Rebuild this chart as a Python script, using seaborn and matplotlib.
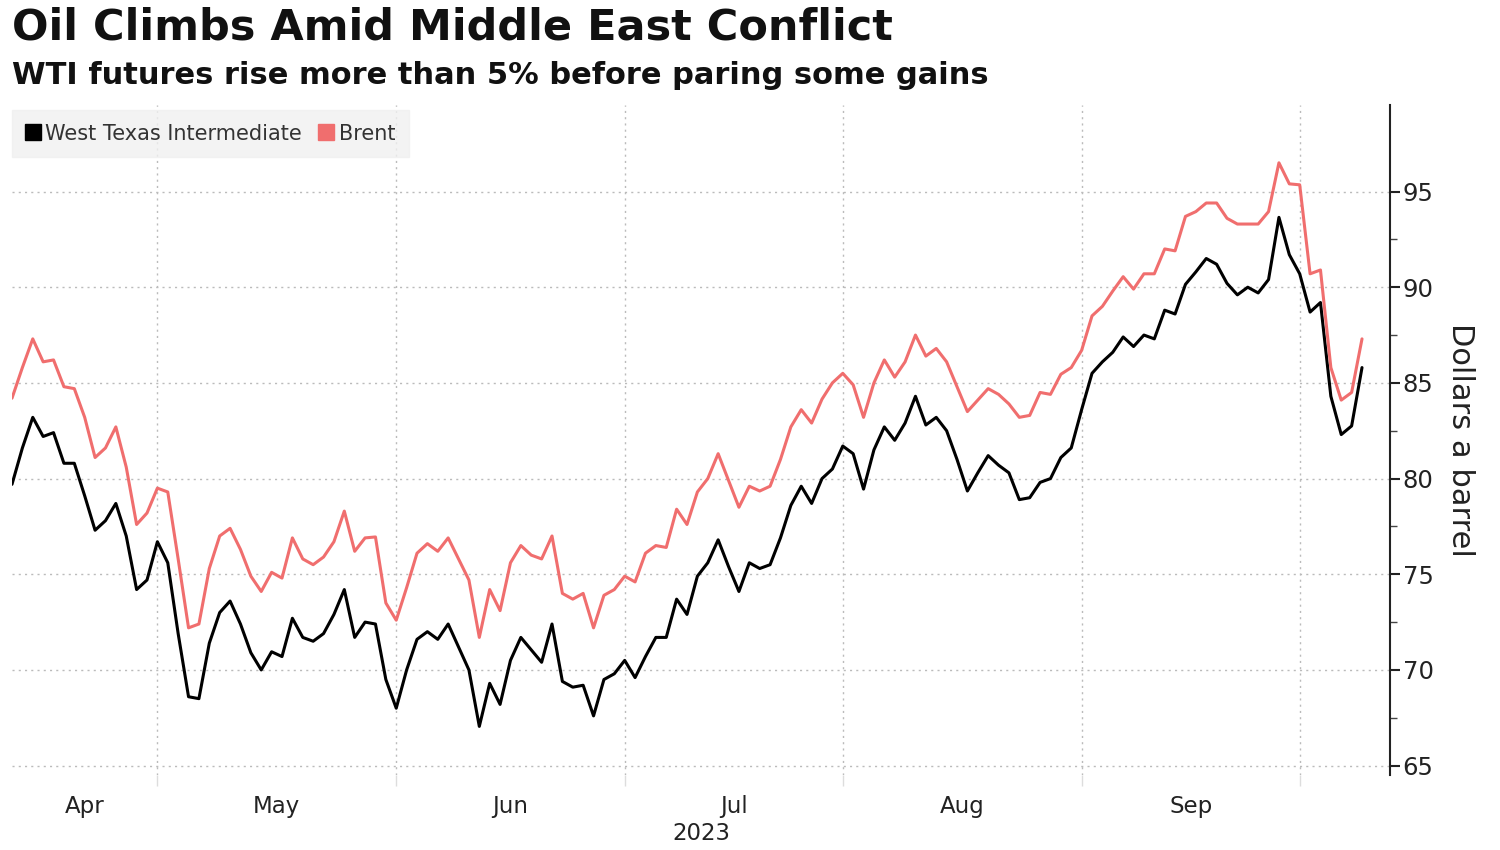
import pandas as pd
import seaborn as sns
import matplotlib.pyplot as plt
from matplotlib.lines import Line2D

# Data: one value per weekday, 2023-04-10 .. 2023-10-09

start_date = "2023-04-10"
end_date = "2023-10-09"

wti = [
    79.7, 81.6, 83.2, 82.2, 82.4, 80.8, 80.8, 79.1, 77.3, 77.8, 78.7, 77.0, 74.2, 74.7, 76.7,
    75.6, 71.9, 68.6, 68.5, 71.4, 73.0, 73.6, 72.4,
    70.9, 70.0, 70.95, 70.7, 72.7, 71.7, 71.5, 71.9, 72.9, 74.2, 71.7, 72.5, 72.4, 69.5,
    68.0, 70.0, 71.6, 72.0, 71.6, 72.4, 71.2, 70.0,
    67.05, 69.3, 68.2, 70.5, 71.7, 71.05, 70.4, 72.4, 69.4, 69.1, 69.2, 67.6, 69.5, 69.8,
    70.5, 69.6, 70.7, 71.7, 71.7, 73.7, 72.9, 74.9,
    75.6, 76.8, 75.4, 74.1, 75.6, 75.3, 75.5, 76.9, 78.6, 79.6, 78.7, 80.0, 80.5, 81.7,
    81.3, 79.45, 81.5, 82.7, 82.0, 82.9, 84.3, 82.8,
    83.2, 82.5, 81.0, 79.35, 80.3, 81.2, 80.7, 80.3, 78.9, 79.0, 79.8, 80.0, 81.1, 81.6,
    83.6, 85.5, 86.1, 86.6, 87.4, 86.9, 87.5, 87.3,
    88.8, 88.6, 90.15, 90.8, 91.5, 91.2, 90.2, 89.6, 90.0, 89.7, 90.4, 93.65, 91.7, 90.7,
    88.7, 89.2, 84.3, 82.3, 82.75, 85.8,
]

brent = [
    84.2, 85.8, 87.3, 86.1, 86.2, 84.8, 84.7, 83.2, 81.1, 81.6, 82.7, 80.6, 77.6, 78.2, 79.5,
    79.3, 75.8, 72.2, 72.4, 75.3, 77.0, 77.4, 76.3,
    74.9, 74.1, 75.1, 74.8, 76.9, 75.8, 75.5, 75.9, 76.7, 78.3, 76.2, 76.9, 76.95, 73.5,
    72.6, 74.3, 76.1, 76.6, 76.2, 76.9, 75.8, 74.7,
    71.7, 74.2, 73.1, 75.6, 76.5, 76.0, 75.8, 77.0, 74.0, 73.7, 74.0, 72.2, 73.9, 74.2,
    74.9, 74.6, 76.1, 76.5, 76.4, 78.4, 77.6, 79.3,
    80.0, 81.3, 79.9, 78.5, 79.6, 79.35, 79.6, 81.0, 82.7, 83.6, 82.9, 84.15, 85.0, 85.5,
    84.9, 83.2, 85.0, 86.2, 85.3, 86.1, 87.5, 86.4,
    86.8, 86.1, 84.8, 83.5, 84.1, 84.7, 84.4, 83.9, 83.2, 83.3, 84.5, 84.4, 85.45, 85.8,
    86.7, 88.5, 89.0, 89.8, 90.55, 89.9, 90.7, 90.7,
    92.0, 91.9, 93.7, 93.95, 94.4, 94.4, 93.6, 93.3, 93.3, 93.3, 93.95, 96.5, 95.4, 95.35,
    90.7, 90.9, 85.8, 84.1, 84.5, 87.3,
]

series_names = ["West Texas Intermediate", "Brent"]
series_colors = ["#000000", "#f06e6e"]
month_labels = ["Apr", "May", "Jun", "Jul", "Aug", "Sep"]
year_label = "2023"
y_ticks = [65, 70, 75, 80, 85, 90, 95]

# Build the long table (x = weekday position, like the original's trading-day axis)
dates = pd.bdate_range(start_date, end_date)
df = pd.DataFrame({"date": dates, "idx": range(len(dates)),
                   series_names[0]: wti, series_names[1]: brent})
long_df = df.melt(id_vars=["date", "idx"], var_name="series", value_name="price")

# Month boundaries: gridline at the last weekday of each month
periods = df["date"].dt.to_period("M")
first_idx = df.groupby(periods)["idx"].min()
grid_pos = [i - 1 for i in first_idx.values[1:]]

x_max = 132.7
bounds = [0] + grid_pos
label_pos = [(bounds[i] + bounds[i + 1]) / 2 for i in range(len(month_labels))]

sns.set_theme(style="white")
plt.rcParams["font.family"] = ["DejaVu Sans"]

fig = plt.figure(figsize=(15, 8.5), dpi=100)
ax = fig.add_axes([0.008, 0.088, 0.9187, 0.788])

sns.lineplot(data=long_df, x="idx", y="price", hue="series",
             palette=dict(zip(series_names, series_colors)),
             linewidth=2.2, legend=False, ax=ax)

ax.set_xlim(0, x_max)
ax.set_ylim(64.5, 99.5)

# y axis on the right
ax.yaxis.tick_right()
ax.yaxis.set_label_position("right")
ax.set_yticks(y_ticks)
ax.set_yticks([v + 2.5 for v in y_ticks[:-1]], minor=True)
ax.tick_params(axis="y", which="major", length=7, width=1.5, color="#222222",
               labelsize=17.5, labelcolor="#222222", pad=2, right=True)
ax.tick_params(axis="y", which="minor", length=5, width=1, color="#444444", right=True)
ax.set_ylabel("Dollars a barrel", rotation=-90, fontsize=22, color="#222222", labelpad=30)

# x axis: month labels between gridlines
ax.set_xticks(label_pos, month_labels)
ax.set_xticks(grid_pos, minor=True)
ax.tick_params(axis="x", which="major", length=0, labelsize=16.5, labelcolor="#222222", pad=14)
ax.tick_params(axis="x", which="minor", length=8, width=1, color="#dddddd", bottom=True)
ax.set_xlabel("")
ax.text(0.5, -0.07, year_label, transform=ax.transAxes, ha="center", va="top",
        fontsize=16.5, color="#222222")

ax.grid(axis="y", which="major", linestyle=(0, (1.5, 3)), color="#bbbbbb", linewidth=1)
ax.grid(axis="x", which="minor", linestyle=(0, (1.5, 3)), color="#bbbbbb", linewidth=1)

for side in ["left", "top", "bottom"]:
    ax.spines[side].set_visible(False)
ax.spines["right"].set_color("#222222")
ax.spines["right"].set_linewidth(1.5)

handles = [Line2D([0], [0], marker="s", color="none", markerfacecolor=c,
                  markeredgecolor=c, markersize=11) for c in series_colors]
leg = ax.legend(handles, series_names, loc="upper left", bbox_to_anchor=(0, 0.993),
                ncol=2, frameon=True, fontsize=15, handlelength=0.7, handletextpad=0.25,
                columnspacing=0.8, borderaxespad=0, borderpad=0.65, fancybox=False)
leg.get_frame().set_facecolor("#f0f0f0")
leg.get_frame().set_edgecolor("#f0f0f0")
for t in leg.get_texts():
    t.set_color("#333333")

fig.text(0.008, 0.992, "Oil Climbs Amid Middle East Conflict", ha="left", va="top",
         fontsize=31, fontweight="bold", color="#111111")
fig.text(0.008, 0.928, "WTI futures rise more than 5% before paring some gains",
         ha="left", va="top", fontsize=22, fontweight="bold", color="#111111")

fig.savefig("out.png", dpi=100, facecolor="white")
